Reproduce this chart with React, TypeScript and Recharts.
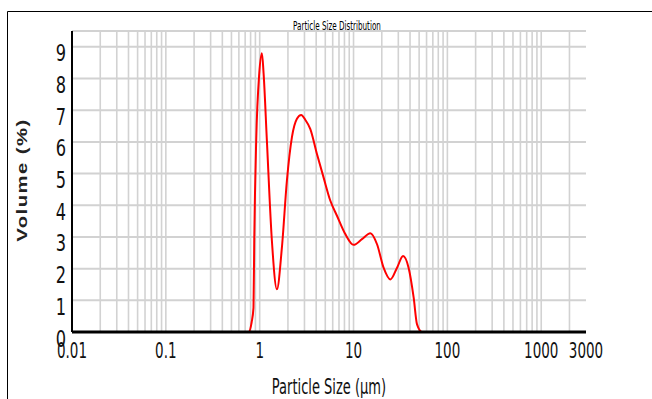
import React from 'react';
import { LineChart, Line, XAxis, YAxis, CartesianGrid, ReferenceLine } from 'recharts';

// Particle size (µm) and volume (%)
const sizes = [0.02, 0.76, 0.82, 0.859, 0.875, 0.918, 0.99, 1.056, 1.1, 1.193, 1.349, 1.526, 1.725, 1.95, 2.206, 2.494, 2.772, 3.057, 3.457, 4.075, 4.792, 5.65, 6.66, 8.17, 10.0, 12.3, 15.1, 17.8, 20.9, 24.7, 29.1, 33.7, 38.6, 43.7, 47.5, 53.7, 2000];
const volumes = [0, 0, 0.3, 0.77, 2.9, 6.04, 8.17, 8.8, 8.17, 6.04, 2.88, 1.35, 2.67, 4.78, 6.15, 6.73, 6.85, 6.7, 6.41, 5.62, 4.88, 4.15, 3.67, 3.09, 2.75, 2.93, 3.12, 2.77, 2.03, 1.66, 2.03, 2.4, 2.03, 1.09, 0.24, 0, 0];

const xTicks = [0.01, 0.1, 1, 10, 100, 1000, 3000];
const yTicks = [0, 1, 2, 3, 4, 5, 6, 7, 8, 9];
const decades = [0.01, 0.1, 1, 10, 100, 1000];
const multipliers = [1, 2, 3, 4, 5, 6, 7, 8, 9];

const gridX: number[] = [];
decades.forEach((d) => multipliers.forEach((m) => {
  const v = +(d * m).toPrecision(3);
  if (v > 0.01 && v < 3000) gridX.push(v);
}));

const data = sizes.map((s, i) => ({ size: s, volume: volumes[i] }));

const NARROW = "'Liberation Sans Narrow', 'Arial Narrow', 'DejaVu Sans Condensed', sans-serif";

const XTick = (props: any) => {
  const { x, y, payload } = props;
  return (
    <g transform={`translate(${x},${y + 26}) scale(1,1.4)`}>
      <text x={0} y={0} textAnchor="middle" fontFamily={NARROW} fontSize={15} fill="#111">
        {String(payload.value)}
      </text>
    </g>
  );
};

const YTick = (props: any) => {
  const { x, y, payload } = props;
  return (
    <g transform={`translate(${x - 6},${y + 14.5}) scale(1,1.3)`}>
      <text x={0} y={0} textAnchor="end" fontFamily={NARROW} fontSize={18} fill="#111">
        {String(payload.value)}
      </text>
    </g>
  );
};

export default function App() {
  return (
    <div style={{ position: 'absolute', left: 0, top: 0, width: 652, height: 399, overflow: 'hidden', background: '#fff' }}>
      <LineChart width={652} height={399} data={data} margin={{ top: 31, right: 66, left: 0, bottom: 0 }}>
        <CartesianGrid vertical={false} stroke="#d2d2d2" strokeWidth={2} />
        {gridX.map((v) => (
          <ReferenceLine key={v} x={v} stroke="#d2d2d2" strokeWidth={1.6} ifOverflow="hidden" />
        ))}
        <XAxis
          dataKey="size"
          type="number"
          scale="log"
          domain={[0.01, 3000]}
          ticks={xTicks}
          allowDataOverflow
          height={67}
          tickLine={false}
          tickSize={0}
          tickMargin={0}
          tick={<XTick />}
          axisLine={{ stroke: '#000', strokeWidth: 3 }}
          interval={0}
        />
        <XAxis xAxisId="top" orientation="top" type="number" domain={[0, 1]} height={0} tick={false} tickLine={false} axisLine={{ stroke: '#000', strokeWidth: 2 }} />
        <YAxis
          type="number"
          domain={[0, 9.5]}
          ticks={yTicks}
          width={72}
          tickLine={false}
          tickSize={0}
          tickMargin={0}
          tick={<YTick />}
          axisLine={{ stroke: '#000', strokeWidth: 2 }}
          interval={0}
        />
        <YAxis yAxisId="right" orientation="right" type="number" domain={[0, 1]} width={0} tick={false} tickLine={false} axisLine={{ stroke: '#000', strokeWidth: 2 }} />
        <Line type="monotone" dataKey="volume" stroke="#ff0000" strokeWidth={2} dot={false} isAnimationActive={false} />
      </LineChart>
      <svg width={652} height={399} style={{ position: 'absolute', left: 0, top: 0, pointerEvents: 'none' }}>
        <line x1={7.5} y1={11.5} x2={652} y2={11.5} stroke="#000" strokeWidth={1} />
        <line x1={7.5} y1={11.5} x2={7.5} y2={399} stroke="#000" strokeWidth={1} />
        <g transform="translate(337,30) scale(1,1.55)">
          <text x={0} y={0} textAnchor="middle" fontFamily={NARROW} fontSize={8} fill="#000">Particle Size Distribution</text>
        </g>
        <g transform="translate(329,394) scale(1,1.5)">
          <text x={0} y={0} textAnchor="middle" fontFamily={NARROW} fontSize={14.5} fill="#111">Particle Size (µm)</text>
        </g>
        <g transform="translate(27,180) rotate(-90) scale(1.45,1)">
          <text x={0} y={0} textAnchor="middle" fontFamily="'Liberation Sans', Arial, sans-serif" fontSize={14} fontWeight="bold" letterSpacing={1} fill="#222">Volume (%)</text>
        </g>
      </svg>
    </div>
  );
}
